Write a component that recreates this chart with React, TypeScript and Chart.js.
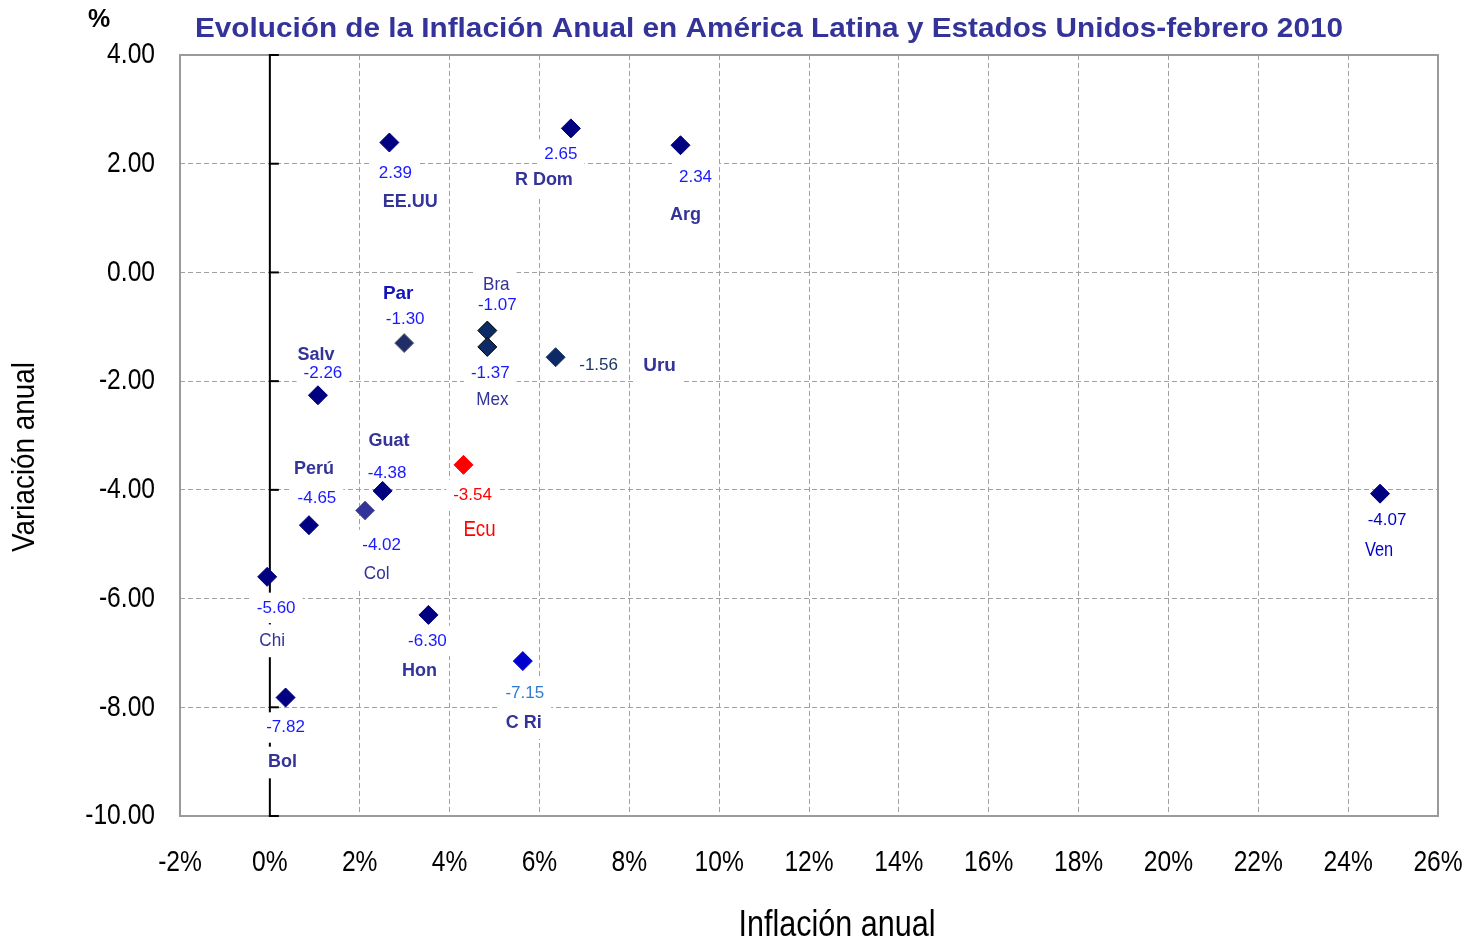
import React, { useEffect, useRef } from 'react';
import { Chart, registerables } from 'chart.js';

Chart.register(...registerables);

// ---------------- data ----------------
const countries = ['EE.UU', 'R Dom', 'Arg', 'Par', 'Bra', 'Mex', 'Uru', 'Salv', 'Guat', 'Perú', 'Col', 'Ecu', 'Chi', 'Hon', 'C Ri', 'Bol', 'Ven'];
const inflation = [2.66, 6.70, 9.14, 2.99, 4.84, 4.84, 6.36, 1.07, 2.12, 0.87, 2.51, 4.31, -0.06, 3.53, 5.63, 0.35, 24.71];
const variation = [2.39, 2.65, 2.34, -1.30, -1.07, -1.37, -1.56, -2.26, -4.38, -4.65, -4.02, -3.54, -5.60, -6.30, -7.15, -7.82, -4.07];
const xTickValues = [-2, 0, 2, 4, 6, 8, 10, 12, 14, 16, 18, 20, 22, 24, 26];
const yTickValues = [-10, -8, -6, -4, -2, 0, 2, 4];

const TITLE = 'Evolución de la Inflación Anual en América Latina y Estados Unidos-febrero 2010';
const X_TITLE = 'Inflación anual';
const Y_TITLE = 'Variación anual';
const UNIT = '%';

// ---------------- styles ----------------
const pointFill = ['#000080', '#000080', '#000080', '#1F2F66', '#0B2A66', '#0B2A66', '#0B2A66', '#000080', '#333399', '#000080', '#000080', '#FF0000', '#000080', '#000080', '#0000CC', '#000080', '#000080'];
const pointBorder = ['#000080', '#000080', '#000080', '#6B6B8A', '#000000', '#000000', '#1F3864', '#000080', '#666699', '#000080', '#000080', '#FF0000', '#000080', '#000080', '#0000CC', '#000080', '#000080'];

// label offsets (pixels, relative to the point)
const valueOffsets = [[6, 31], [-10, 26], [15, 32], [1, -24], [10, -25], [3, 26], [43, 8], [5, -22], [22, -37], [8, -27], [-1, 54], [9, 30], [9, 31], [-1, 26], [2, 32], [0, 30], [7, 27]];
const nameOffsets = [[21, 60], [-27, 52], [5, 70], [-6, -49], [9, -46], [5, 53], [104, 9], [-2, -40], [24, -69], [5, -56], [-6, 83], [16, 65], [5, 64], [-9, 56], [1, 62], [-3, 65], [-1, 57]];

type LStyle = { color: string; size: number; bold: boolean; sx: number };
const V = (color: string): LStyle => ({ color, size: 17, bold: false, sx: 1 });
const NB = (color = '#333399', size = 18): LStyle => ({ color, size, bold: true, sx: 1 });
const NR = (color = '#333399', size = 19, sx = 0.9): LStyle => ({ color, size, bold: false, sx });

const valueStyles: LStyle[] = [
  V('#1A1AFF'), V('#1A1AFF'), V('#1A1AFF'), V('#1A1AFF'), V('#1A1AFF'), V('#1A1AFF'), V('#1F3864'),
  V('#1A1AFF'), V('#1A1AFF'), V('#1A1AFF'), V('#1A1AFF'), V('#FF0000'), V('#1A1AFF'), V('#1A1AFF'),
  V('#2E7BD6'), V('#1A1AFF'), V('#0000CC'),
];
const nameStyles: LStyle[] = [
  NB(), NB(), NB(), NB('#1414B8', 19), NR(), NR(), NB('#333399', 19), NB(), NB(), NB(), NR(),
  NR('#FF0000', 22, 0.85), NR(), NB(), NB(), NB(), NR('#0000CC', 21, 0.78),
];

const FONT = '"Liberation Sans", Arial, sans-serif';

function fontStr(st: LStyle) {
  return `${st.bold ? 'bold ' : ''}${st.size}px ${FONT}`;
}

function drawScaled(ctx: CanvasRenderingContext2D, text: string, x: number, y: number, sx: number, align: CanvasTextAlign, color: string) {
  ctx.save();
  ctx.translate(x, y);
  ctx.scale(sx, 1);
  ctx.fillStyle = color;
  ctx.textAlign = align;
  ctx.textBaseline = 'middle';
  ctx.fillText(text, 0, 0);
  ctx.restore();
}

function drawFit(ctx: CanvasRenderingContext2D, text: string, cx: number, cy: number, font: string, targetW: number, color: string, rot = 0) {
  ctx.save();
  ctx.font = font;
  const w = ctx.measureText(text).width;
  ctx.translate(cx, cy);
  if (rot) ctx.rotate(rot);
  ctx.scale(targetW / w, 1);
  ctx.fillStyle = color;
  ctx.textAlign = 'center';
  ctx.textBaseline = 'middle';
  ctx.fillText(text, 0, 0);
  ctx.restore();
}

const overlay = {
  id: 'overlay',
  beforeDatasetsDraw(chart: any) {
    const { ctx, chartArea: a, scales } = chart;
    const xs = scales.x;
    const ys = scales.y;
    ctx.save();
    // plot border
    ctx.strokeStyle = '#9a9a9a';
    ctx.lineWidth = 2;
    ctx.setLineDash([]);
    ctx.strokeRect(a.left, a.top, a.right - a.left, a.bottom - a.top);
    // zero axis with ticks
    const x0 = xs.getPixelForValue(0);
    ctx.strokeStyle = '#000';
    ctx.lineWidth = 2;
    ctx.beginPath();
    ctx.moveTo(x0, a.top);
    ctx.lineTo(x0, a.bottom);
    ctx.stroke();
    yTickValues.forEach((v) => {
      const py = ys.getPixelForValue(v);
      ctx.beginPath();
      ctx.moveTo(x0 - 1, py);
      ctx.lineTo(x0 + 9, py);
      ctx.stroke();
    });
    // data labels
    const meta = chart.getDatasetMeta(0);
    const items: { text: string; x: number; y: number; st: LStyle }[] = [];
    meta.data.forEach((pt: any, i: number) => {
      items.push({ text: variation[i].toFixed(2), x: pt.x + valueOffsets[i][0], y: pt.y + valueOffsets[i][1], st: valueStyles[i] });
      items.push({ text: countries[i], x: pt.x + nameOffsets[i][0], y: pt.y + nameOffsets[i][1], st: nameStyles[i] });
    });
    items.forEach((it) => {
      ctx.font = fontStr(it.st);
      const w = ctx.measureText(it.text).width * it.st.sx;
      ctx.fillStyle = '#ffffff';
      const h = it.st.size * 1.2 + 10;
      ctx.fillRect(it.x - w / 2 - 7, it.y - h / 2, w + 14, h);
    });
    items.forEach((it) => {
      ctx.font = fontStr(it.st);
      drawScaled(ctx, it.text, it.x, it.y, it.st.sx, 'center', it.st.color);
    });
    ctx.restore();
  },
  afterDraw(chart: any) {
    const { ctx, chartArea: a, scales } = chart;
    const xs = scales.x;
    const ys = scales.y;
    ctx.save();
    ctx.font = `30px ${FONT}`;
    yTickValues.forEach((v) => {
      drawScaled(ctx, v.toFixed(2), 155, ys.getPixelForValue(v), 0.82, 'right', '#000');
    });
    xTickValues.forEach((v) => {
      drawScaled(ctx, `${v}%`, xs.getPixelForValue(v), a.bottom + 47, 0.82, 'center', '#000');
    });
    // titles
    ctx.font = `bold 28px ${FONT}`;
    const tw = ctx.measureText(TITLE).width;
    ctx.save();
    ctx.translate(769, 37);
    ctx.scale(1148 / tw, 1);
    ctx.fillStyle = '#333399';
    ctx.textAlign = 'center';
    ctx.textBaseline = 'alphabetic';
    ctx.fillText(TITLE, 0, 0);
    ctx.restore();
    drawFit(ctx, X_TITLE, 837, 926, `37px ${FONT}`, 197, '#000');
    drawFit(ctx, Y_TITLE, 25, 457, `31px ${FONT}`, 190, '#000', -Math.PI / 2);
    ctx.font = `bold 25px ${FONT}`;
    ctx.fillStyle = '#000';
    ctx.textAlign = 'center';
    ctx.textBaseline = 'alphabetic';
    ctx.fillText(UNIT, 99, 27);
    ctx.restore();
  },
};

export default function App() {
  const canvasRef = useRef<HTMLCanvasElement | null>(null);

  useEffect(() => {
    if (!canvasRef.current) return;
    const points = countries.map((_, i) => ({ x: inflation[i], y: variation[i] }));
    const gridOpts = { color: '#a0a0a0', lineWidth: 1, drawTicks: false };
    const chart = new Chart(canvasRef.current, {
      type: 'scatter',
      data: {
        datasets: [
          {
            label: 'Inflación',
            data: points,
            pointStyle: 'rectRot',
            pointRadius: 9.5,
            pointHoverRadius: 9.5,
            backgroundColor: pointFill,
            borderColor: pointBorder,
            borderWidth: 1,
          },
        ],
      },
      options: {
        responsive: false,
        animation: false,
        layout: { padding: { top: 55, right: 36, left: 0, bottom: 0 } },
        plugins: {
          legend: { display: false },
          title: { display: false },
          tooltip: { enabled: false },
        },
        scales: {
          x: {
            type: 'linear',
            min: -2,
            max: 26,
            ticks: { stepSize: 2, display: false },
            grid: gridOpts,
            border: { display: false, dash: [5, 3] },
            afterFit: (s: any) => {
              s.height = 125;
            },
          },
          y: {
            type: 'linear',
            min: -10,
            max: 4,
            ticks: { stepSize: 2, display: false },
            grid: gridOpts,
            border: { display: false, dash: [5, 3] },
            afterFit: (s: any) => {
              s.width = 180;
            },
          },
        },
      },
      plugins: [overlay],
    } as any);
    return () => chart.destroy();
  }, []);

  return (
    <div style={{ position: 'fixed', left: 0, top: 0, width: 1474, height: 941, background: '#fff' }}>
      <canvas ref={canvasRef} width={1474} height={941} style={{ display: 'block' }} />
    </div>
  );
}
